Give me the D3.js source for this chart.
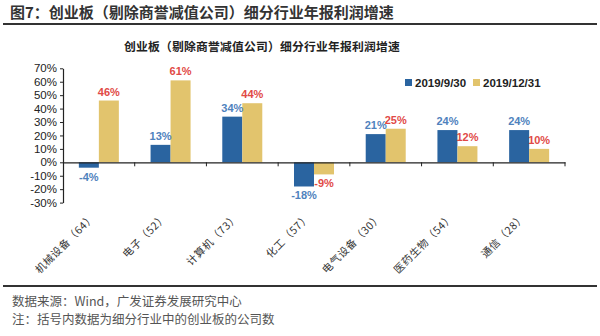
<!DOCTYPE html>
<html><head><meta charset="utf-8">
<script src="https://cdn.jsdelivr.net/npm/d3@7"></script>
<style>body{margin:0;background:#fff}svg{display:block}</style>
</head><body>
<svg id="c" width="600" height="336"></svg>
<script>
const categories = ["机械设备（64）","电子（52）","计算机（73）","化工（57）","电气设备（30）","医药生物（54）","通信（28）"];
const seriesNames = ["2019/9/30","2019/12/31"];
const q3Values = [-4, 13, 34, -18, 21, 24, 24];
const fyValues = [46, 61, 44, -9, 25, 12, 10];
const yTicks = [70,60,50,40,30,20,10,0,-10,-20,-30];

const svg = d3.select("#c");
const cjk = "'Noto Sans CJK SC', sans-serif";
const latin = "'Liberation Sans', Arial, sans-serif";
const blue = "#2a64a0", gold = "#e2c46d";
const blueTxt = "#4f82bd", redTxt = "#e14a46";

// header
svg.append("text").attr("x",10).attr("y",18).attr("font-family",cjk).attr("font-weight","bold")
  .attr("font-size",15).attr("fill","#333").text("图7：创业板（剔除商誉减值公司）细分行业年报利润增速");
svg.append("line").attr("x1",3).attr("x2",597).attr("y1",24).attr("y2",24).attr("stroke","#333").attr("stroke-width",2);

svg.append("text").attr("x",262).attr("y",51).attr("text-anchor","middle").attr("font-family",cjk)
  .attr("font-weight","bold").attr("font-size",11.8).attr("letter-spacing",0.2).attr("fill","#222")
  .text("创业板（剔除商誉减值公司）细分行业年报利润增速");

const x0 = d3.scaleBand().domain(categories).range([63,565]);
const y = d3.scaleLinear().domain([-30,70]).range([202.6,68.3]);

// y axis
const ya = svg.append("g").attr("transform","translate(63,0)")
  .call(d3.axisLeft(y).tickValues(yTicks).tickFormat(d=>d+"%").tickSize(3).tickSizeOuter(0));
ya.select(".domain").attr("stroke","#222").attr("stroke-width",1.2);
ya.selectAll(".tick line").attr("stroke","#222");
ya.selectAll("text").attr("font-family",latin).attr("font-size",11.5).attr("fill","#222").attr("x",-6);

// bars
const bw = 20;
const g = svg.append("g");
categories.forEach((c,i)=>{
  const cx = x0(c)+x0.bandwidth()/2;
  const v1 = q3Values[i], v2 = fyValues[i];
  g.append("rect").attr("x",cx-bw).attr("width",bw).attr("y",y(Math.max(0,v1))).attr("height",Math.abs(y(v1)-y(0))).attr("fill",blue);
  g.append("rect").attr("x",cx).attr("width",bw).attr("y",y(Math.max(0,v2))).attr("height",Math.abs(y(v2)-y(0))).attr("fill",gold);
  g.append("text").attr("x",cx-bw/2).attr("y",v1>=0?y(v1)-5:y(v1)+13).attr("text-anchor","middle")
    .attr("font-family",latin).attr("font-weight","bold").attr("font-size",11).attr("fill",blueTxt).text(v1+"%");
  g.append("text").attr("x",cx+bw/2).attr("y",v2>=0?y(v2)-5:y(v2)+13).attr("text-anchor","middle")
    .attr("font-family",latin).attr("font-weight","bold").attr("font-size",11).attr("fill",redTxt).text(v2+"%");
});

// x axis at zero
const xa = svg.append("g").attr("transform",`translate(0,${y(0)})`)
  .call(d3.axisBottom(x0).tickSize(0).tickFormat(""));
xa.select(".domain").attr("stroke","#222").attr("stroke-width",1.2);
categories.forEach((c,i)=>{
  const xx = x0(c)+x0.bandwidth();
  svg.append("line").attr("x1",xx).attr("x2",xx).attr("y1",y(0)).attr("y2",y(0)+4).attr("stroke","#222");
});

// category labels rotated
categories.forEach(c=>{
  const cx = x0(c)+x0.bandwidth()/2 - 3;
  svg.append("text").attr("transform",`translate(${cx},218) rotate(-45)`).attr("text-anchor","end")
    .attr("font-family",cjk).attr("font-size",10.5).attr("letter-spacing",0.6).attr("fill","#333").text(c);
});

// legend
const leg = [[seriesNames[0],blue,405],[seriesNames[1],gold,473]];
leg.forEach(([t,col,lx])=>{
  svg.append("rect").attr("x",lx).attr("y",79).attr("width",7).attr("height",7).attr("fill",col);
  svg.append("text").attr("x",lx+10).attr("y",87).attr("font-family",latin).attr("font-weight","bold")
    .attr("font-size",11.5).attr("fill","#222").text(t);
});

// footer
svg.append("line").attr("x1",3).attr("x2",597).attr("y1",286).attr("y2",286).attr("stroke","#333").attr("stroke-width",2);
svg.append("text").attr("x",12).attr("y",306).attr("font-family",cjk).attr("font-size",12.5).attr("fill","#555")
  .text("数据来源：Wind，广发证券发展研究中心");
svg.append("text").attr("x",12).attr("y",324).attr("font-family",cjk).attr("font-size",12.5).attr("fill","#555")
  .text("注：括号内数据为细分行业中的创业板的公司数");
</script>
</body></html>
